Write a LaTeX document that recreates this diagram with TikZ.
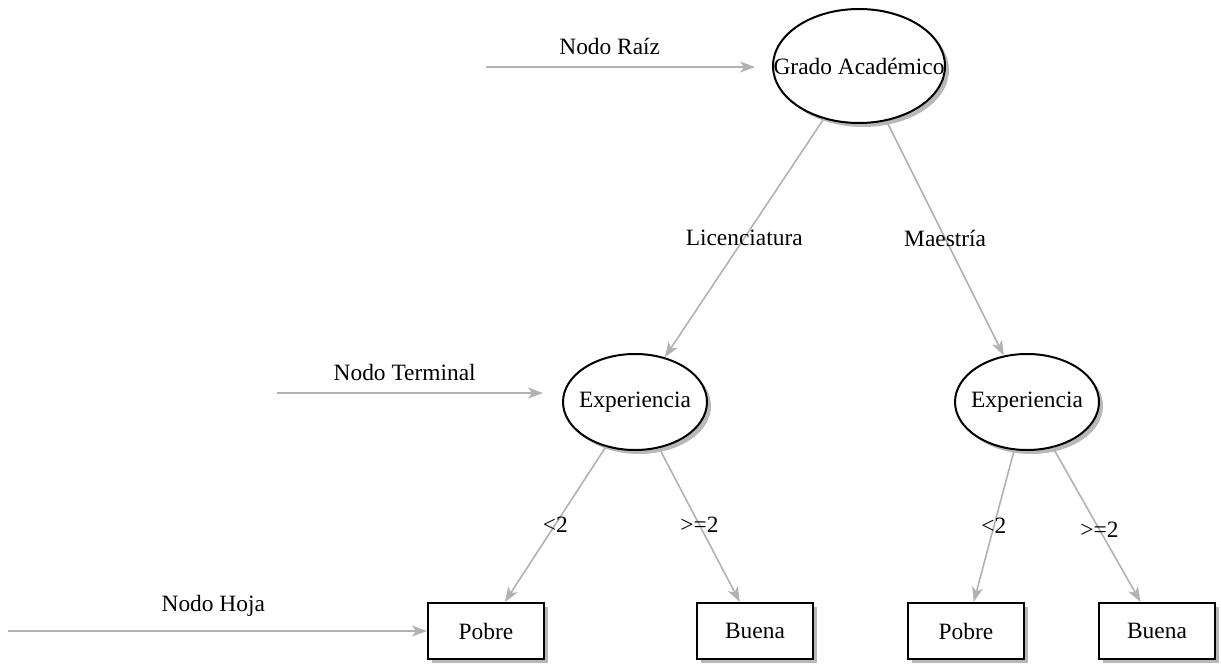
\documentclass[tikz,border=0pt]{standalone}
\usepackage{fontspec}
\setmainfont{Liberation Serif}
\usetikzlibrary{shapes.geometric,shadows,arrows.meta}
\begin{document}
\begin{tikzpicture}[x=1pt,y=-1pt,
  font=\fontsize{23.4}{27}\selectfont,
  shade/.style={drop shadow={shadow xshift=4pt,shadow yshift=-4pt,fill=black!35,opacity=0.8}},
  decision/.style={ellipse,draw=black,line width=2pt,fill=white,inner xsep=-40pt,inner ysep=0pt,shade},
  leaf/.style={rectangle,draw=black,line width=2pt,fill=white,minimum width=116pt,minimum height=56pt,inner sep=0pt,shade},
  branch/.style={draw=black!30,line width=1.6pt,-{Stealth[length=15pt,width=11pt,inset=4pt]}},
  lbl/.style={inner sep=0pt}]
\useasboundingbox (0,0) rectangle (1221,664);

% tree nodes
\node[decision,minimum width=172pt,minimum height=114pt] (root) at (859,66) {Grado Académico};
\node[decision,minimum width=144pt,minimum height=96pt] (expl) at (635,402) {Experiencia};
\node[decision,minimum width=144pt,minimum height=96pt] (expr) at (1027,402) {Experiencia};
\node[leaf] (pl) at (486,631) {Pobre};
\node[leaf] (bl) at (755,631) {Buena};
\node[leaf] (pr) at (966,631) {Pobre};
\node[leaf] (br) at (1157,631) {Buena};

% branches
\draw[branch] (root) -- node[lbl]{Licenciatura} (expl);
\draw[branch] (root) -- node[lbl]{Maestría} (expr);
\draw[branch] (expl) -- node[lbl]{<2} (pl);
\draw[branch] (expl) -- node[lbl]{>=2} (bl);
\draw[branch] (expr) -- node[lbl,pos=0.5]{<2} (pr);
\draw[branch] (expr) -- node[lbl,pos=0.53]{>=2} (br);

% annotation pointers
\coordinate (raizA) at (486,67);
\coordinate (raizB) at (755,67);
\coordinate (termA) at (277,393);
\coordinate (termB) at (543,393);
\coordinate (hojaA) at (8,631);
\coordinate (hojaB) at (427,631);
\draw[branch] (raizA) -- node[lbl,above=11pt,pos=0.46]{Nodo Raíz} (raizB);
\draw[branch] (termA) -- node[lbl,above=11pt,pos=0.48]{Nodo Terminal} (termB);
\draw[branch] (hojaA) -- node[lbl,above=14pt,pos=0.49]{Nodo Hoja} (hojaB);
\end{tikzpicture}
\end{document}
